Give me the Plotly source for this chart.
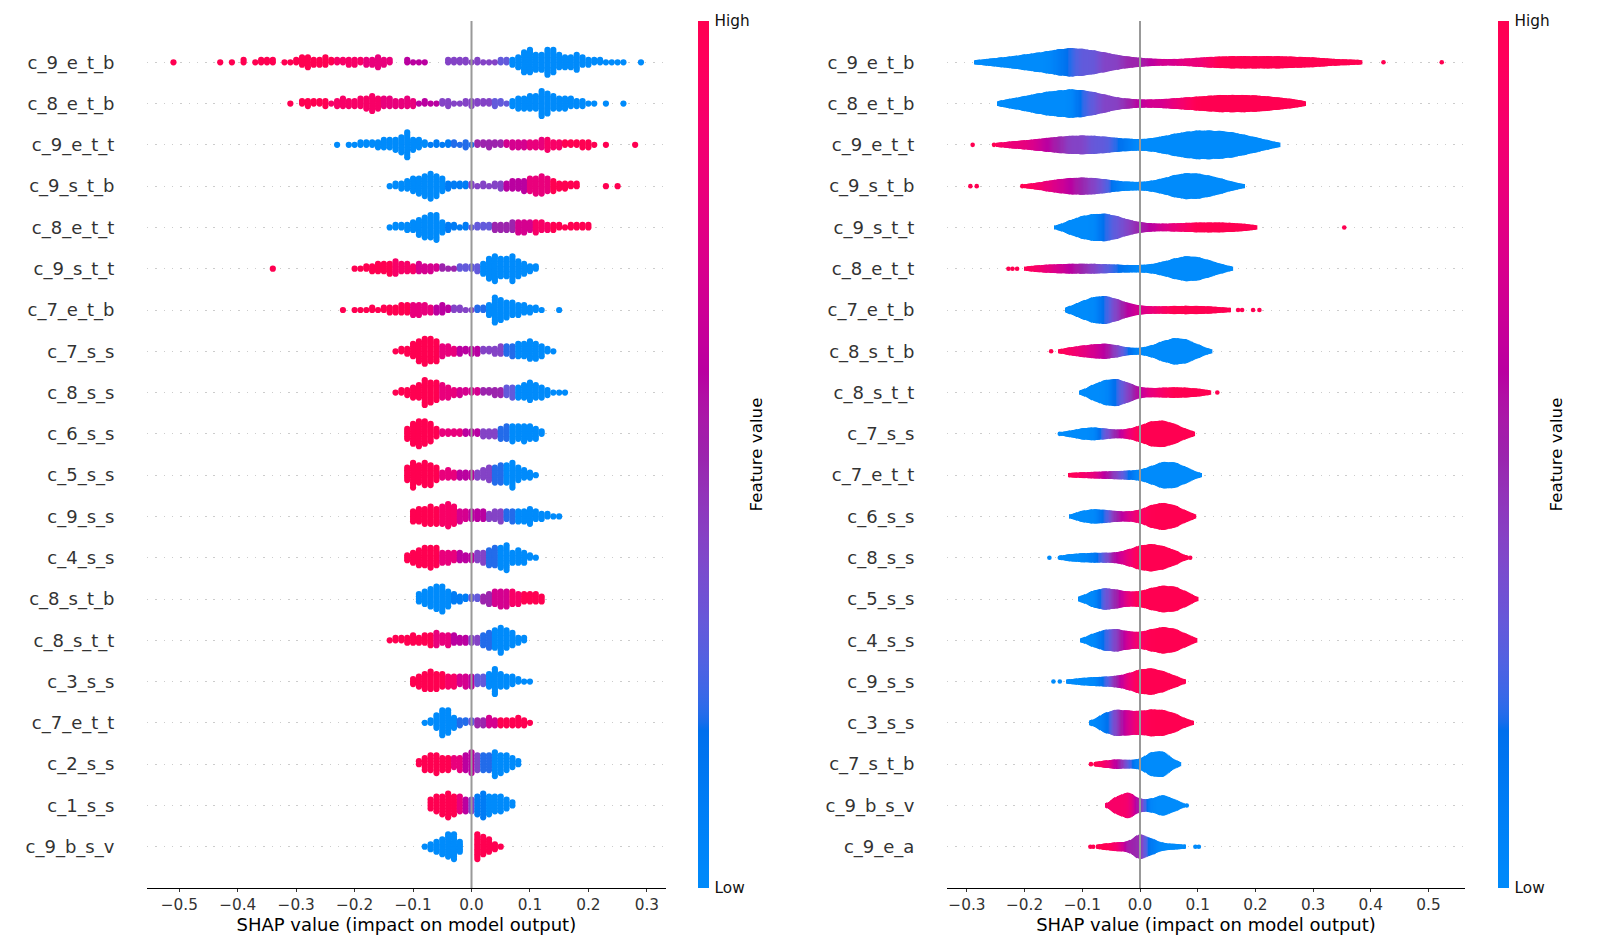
import math
import numpy as np
import plotly.graph_objects as go

# ---------------------------------------------------------------- data
# Left panel: SHAP beeswarm (rows listed top to bottom)
L_FEATURES = ["c_9_e_t_b", "c_8_e_t_b", "c_9_e_t_t", "c_9_s_t_b", "c_8_e_t_t",
              "c_9_s_t_t", "c_7_e_t_b", "c_7_s_s", "c_8_s_s", "c_6_s_s",
              "c_5_s_s", "c_9_s_s", "c_4_s_s", "c_8_s_t_b", "c_8_s_t_t",
              "c_3_s_s", "c_7_e_t_t", "c_2_s_s", "c_1_s_s", "c_9_b_s_v"]
# first SHAP value of each row's 0.01-wide columns
L_START = [-0.51, -0.31, -0.23, -0.14, -0.14, -0.34, -0.22, -0.13, -0.13, -0.11,
           -0.11, -0.10, -0.11, -0.09, -0.14, -0.10, -0.08, -0.09, -0.07, -0.08]
# number of samples in each 0.01-wide SHAP column
L_COUNTS = [
    [1,0,0,0,0,0,0,0,1,0, 1,0,2,0,1,2,2,2,0,1, 1,2,4,5,3,3,4,2,2,2, 3,3,2,3,3,5,3,2,0,0,
     2,1,1,1,0,0,0,2,2,2, 2,1,2,1,1,1,2,2,3,5, 9,10,7,7,11,10,6,5,5,7, 4,3,2,2,1,1,1,1,0,0, 1],
    [1,0,2,3,2,2,3,1,3,4, 3,3,4,5,7,5,4,4,3,3, 4,3,1,2,1,1,2,3,1,1, 2,3,2,2,2,3,2,1,3,5,
     5,6,6,11,9,6,5,5,4,3, 3,1,1,0,1,0,0,1],
    [1,0,1,1,2,2,2,3,4,4, 5,7,11,5,4,2,1,2,1,2, 2,1,3,1,2,2,3,2,2,2, 3,3,3,3,3,4,5,3,3,2,
     2,2,3,3,1,0,1,0,0,0, 0,1],
    [1,2,3,4,6,7,9,11,9,6, 3,2,2,2,2,1,2,1,2,3, 3,4,4,5,6,7,8,6,5,3, 3,2,2,0,0,0,0,1,0,1],
    [1,2,2,3,4,7,9,10,11,5, 3,2,1,2,1,2,2,2,3,3, 3,4,5,5,4,5,4,3,3,2, 1,2,2,2,2],
    [1,0,0,0,0,0,0,0,0,0, 0,0,0,0,1,1,2,3,4,4, 5,6,4,4,3,4,3,3,2,2, 1,1,2,2,2,3,5,9,11,8,
     8,11,7,5,3,2],
    [1,0,1,1,1,2,1,2,3,3, 4,4,5,5,4,3,3,4,2,2, 2,1,1,2,2,5,11,9,7,6, 5,4,3,2,1,0,0,1],
    [1,2,3,6,9,11,10,9,5,4, 3,3,2,3,3,2,2,3,4,4, 5,6,6,8,7,5,2,1],
    [1,2,3,5,6,11,9,8,6,5, 3,3,2,2,2,2,2,3,3,4, 5,5,6,8,6,5,3,1,1,1],
    [5,9,11,10,8,4,2,2,2,2, 2,2,2,3,3,3,5,6,7,6, 7,6,5,2],
    [6,11,8,10,9,6,3,4,3,3, 3,3,3,4,6,7,8,8,11,6, 4,3,1],
    [5,6,7,8,7,8,10,8,5,4, 4,4,4,3,4,5,4,5,5,5, 7,4,3,2,1,1],
    [3,5,7,8,9,8,5,5,4,4, 3,3,4,5,7,8,9,11,5,6, 5,2,1],
    [4,6,8,10,11,7,4,3,2,2, 2,3,5,6,7,7,6,5,4,4, 4,3],
    [1,2,2,3,4,3,4,5,6,4, 5,4,3,3,3,3,5,7,8,11, 8,6,3,2],
    [3,5,7,8,7,6,5,5,4,5, 5,4,4,6,11,6,5,4,2,1, 1],
    [1,2,6,11,10,5,3,2,2,3, 3,4,3,3,3,3,4,3,1],
    [2,5,6,7,5,5,4,5,6,8, 6,6,6,9,7,6,4,2],
    [4,6,7,9,7,6,5,5,7,9, 7,6,6,4,2],
    [1,3,5,7,10,11,5,0,0,11, 8,6,3,1],
]
# feature value (0 = low ... 10 = high) from each SHAP value onwards
L_COLOR_BREAKS = [
    [(-0.51,10),(-0.23,9),(-0.18,8),(-0.13,7),(-0.11,6),(-0.06,5),(-0.04,4),(0.05,3),(0.07,0)],
    [(-0.31,10),(-0.24,9),(-0.15,8),(-0.09,6),(-0.05,4),(0.04,3),(0.07,0)],
    [(-0.23,0),(-0.07,1),(-0.03,2),(0.01,5),(0.06,7),(0.10,8),(0.13,9),(0.16,10)],
    [(-0.14,0),(-0.04,1),(0.0,4),(0.06,6),(0.10,8),(0.14,10)],
    [(-0.14,0),(-0.04,1),(0.0,3),(0.04,5),(0.08,7),(0.11,9),(0.14,10)],
    [(-0.34,10),(-0.13,9),(-0.09,7),(-0.05,5),(-0.02,3),(0.02,0)],
    [(-0.22,10),(-0.10,8),(-0.06,6),(-0.03,4),(0.01,2),(0.03,0)],
    [(-0.13,10),(-0.05,8),(-0.02,6),(0.02,4),(0.06,2),(0.08,0)],
    [(-0.13,10),(-0.05,8),(-0.02,7),(0.02,5),(0.06,3),(0.08,0)],
    [(-0.11,10),(-0.05,8),(-0.01,6),(0.02,4),(0.05,2),(0.07,0)],
    [(-0.11,10),(-0.05,8),(-0.02,6),(0.01,4),(0.04,2),(0.06,0)],
    [(-0.10,10),(-0.05,9),(-0.02,7),(0.0,6),(0.03,4),(0.06,2),(0.08,0)],
    [(-0.11,10),(-0.05,8),(-0.02,6),(0.01,4),(0.03,2),(0.05,0)],
    [(-0.09,0),(-0.03,1),(0.0,3),(0.02,5),(0.04,7),(0.07,9),(0.09,10)],
    [(-0.14,10),(-0.06,8),(-0.03,6),(0.0,4),(0.02,2),(0.04,0)],
    [(-0.10,10),(-0.04,9),(-0.02,7),(0.0,6),(0.01,3),(0.03,0)],
    [(-0.08,0),(-0.02,2),(0.0,3),(0.01,5),(0.03,7),(0.05,10)],
    [(-0.09,10),(-0.03,8),(-0.01,6),(0.01,4),(0.02,2),(0.04,0)],
    [(-0.07,10),(-0.02,8),(-0.01,6),(0.0,4),(0.01,1),(0.03,0)],
    [(-0.08,0),(0.0,10)],
]
L_TICKS = [-0.5, -0.4, -0.3, -0.2, -0.1, 0.0, 0.1, 0.2, 0.3]

# Right panel: SHAP violin (rows listed top to bottom)
R_FEATURES = ["c_9_e_t_b", "c_8_e_t_b", "c_9_e_t_t", "c_9_s_t_b", "c_9_s_t_t",
              "c_8_e_t_t", "c_7_e_t_b", "c_8_s_t_b", "c_8_s_t_t", "c_7_s_s",
              "c_7_e_t_t", "c_6_s_s", "c_8_s_s", "c_5_s_s", "c_4_s_s",
              "c_9_s_s", "c_3_s_s", "c_7_s_t_b", "c_9_b_s_v", "c_9_e_a"]
# first SHAP value of each row's 0.02-wide density bins
R_START = [-0.30, -0.24, -0.26, -0.20, -0.14, -0.20, -0.12, -0.14, -0.10, -0.14,
           -0.12, -0.12, -0.14, -0.10, -0.10, -0.14, -0.08, -0.08, -0.06, -0.08]
# relative sample density in each 0.02-wide bin
R_DENSITY = [
    [3,6,9,12,15,19,23,27,32,35, 33,29,24,18,14,11,9,8,8,9, 11,13,14,15,15,15,15,15,14,13, 12,10,8,7,6,2],
    [8,13,18,24,29,32,35,33,28,22, 15,12,10,10,11,13,15,17,19,21, 21,21,20,18,15,12,8],
    [4,6,9,11,14,17,20,22,23,22, 20,17,15,14,16,21,27,32,35,35, 34,31,25,19,12,6],
    [5,8,13,17,20,21,20,17,13,11, 10,13,19,27,32,31,26,19,11,5],
    [7,18,28,33,34,28,19,13,10,9, 10,11,12,12,12,11,9,6],
    [5,8,10,11,12,12,12,11,10,9, 9,11,17,25,31,29,21,12,5],
    [10,22,32,35,27,17,11,9,9,10, 10,10,9,7,5],
    [5,10,14,17,19,15,9,8,14,25, 33,30,17,6],
    [6,20,31,34,24,13,11,12,13,12, 10,6],
    [4,8,14,16,13,10,12,20,31,33, 25,12,3],
    [6,7,8,9,10,11,13,22,33,32, 20,7],
    [5,14,18,16,13,12,16,28,34,28, 14,3],
    [5,9,11,12,12,13,20,30,34,29, 19,5],
    [8,21,27,23,18,19,27,33,31,19, 4],
    [5,17,26,28,22,20,27,33,29,16, 4],
    [3,6,9,11,12,14,20,30,33,26, 15,4],
    [8,25,33,30,29,33,32,24,10,2],
    [5,9,12,10,12,30,33,10],
    [3,22,34,15,16,27,15,3],
    [4,8,11,12,33,20,9,7,5,2],
]
# mean feature value (0 = low ... 10 = high) in each bin
R_FEATVAL = [
    [0,0,0,0,0,0,0,0,1,2, 3,3,4,4,5,5,6,7,7,8, 8,9,10,10,10,10,10,10,10,10, 10,10,10,10,10,10],
    [0,0,0,0,0,0,0,2,3,4, 4,5,6,7,7,8,9,10,10,10, 10,10,10,10,10,10,10],
    [10,9,8,8,7,6,5,4,4,3, 3,2,1,0,0,0,0,0,0,0, 0,0,0,0,0,0],
    [10,9,8,7,6,5,4,3,1,0, 0,0,0,0,0,0,0,0,0,0],
    [0,0,0,0,2,3,4,5,6,7, 8,9,10,10,10,10,10,10],
    [10,9,8,7,6,5,4,3,2,1, 0,0,0,0,0,0,0,0,0],
    [0,0,0,2,4,6,7,8,9,10, 10,10,10,10,10],
    [10,9,8,7,6,4,2,0,0,0, 0,0,0,0],
    [0,0,0,2,4,6,8,9,10,10, 10,10],
    [0,0,0,0,3,5,8,10,10,10, 10,10,10],
    [10,9,8,6,4,2,0,0,0,0, 0,0],
    [0,0,0,2,5,7,9,10,10,10, 10,10],
    [0,0,0,1,3,6,8,10,10,10, 10,10],
    [0,0,3,5,8,10,10,10,10,10, 10],
    [0,0,2,4,7,9,10,10,10,10, 10],
    [0,0,0,0,2,5,8,10,10,10, 10,10],
    [0,1,4,7,9,10,10,10,10,10],
    [10,9,6,3,0,0,0,0],
    [9,9,9,5,0,0,0,0],
    [10,10,9,5,5,1,0,0,0,0],
]
# isolated samples shown as dots (SHAP value, feature value 0..10)
R_DOTS_X = [[0.422, 0.523], [], [-0.290, -0.253], [-0.294, -0.283, -0.204], [0.354],
            [-0.228, -0.221, -0.213], [0.170, 0.177, 0.196, 0.207], [-0.154], [0.134],
            [-0.139], [], [], [-0.157, -0.139, 0.081, 0.087], [], [], [-0.150, -0.139],
            [], [-0.085, -0.077], [0.081], [-0.086, -0.081, 0.096, 0.102]]
R_DOTS_V = [[10, 10], [], [10, 10], [10, 10, 10], [10], [10, 10, 10], [10, 10, 10, 10],
            [10], [10], [0], [], [], [0, 0, 10, 10], [], [], [0, 0], [], [10, 10], [0],
            [10, 10, 0, 0]]
R_TICKS = [-0.3, -0.2, -0.1, 0.0, 0.1, 0.2, 0.3, 0.4, 0.5]

XLABEL = "SHAP value (impact on model output)"
CBAR_LABEL = "Feature value"

# ---------------------------------------------------------------- colormap (shap red_blue, LCh)
def lab_to_rgb(L, a, b):
    fy = (L + 16.0) / 116.0
    fx = fy + a / 500.0
    fz = max(fy - b / 200.0, 0.0)

    def finv(t):
        return t ** 3 if t > 0.2068966 else (t - 16.0 / 116.0) / 7.787

    xyz = np.array([0.95047 * finv(fx), finv(fy), 1.08883 * finv(fz)])
    m = np.array([[3.24048134, -1.53715152, -0.49853633],
                  [-0.96925495, 1.87599, 0.04155593],
                  [0.05564664, -0.20404134, 1.05731107]])
    out = []
    for c in m @ xyz:
        c = 1.055 * c ** (1 / 2.4) - 0.055 if c > 0.0031308 else 12.92 * c
        out.append(min(max(c, 0.0), 1.0))
    return out


NSTEP = 100
l_vals = list(np.linspace(54.0, 40.0, NSTEP // 2)) + list(np.linspace(40.0, 54.0, NSTEP // 2))
c_vals = np.linspace(70.0, 90.0, NSTEP)
h_vals = np.linspace(4.6588, 0.35470565 + 2 * np.pi, NSTEP)
COLORSCALE = []
for i, (l, c, h) in enumerate(zip(l_vals, c_vals, h_vals)):
    r, g, b = lab_to_rgb(l, c * np.cos(h), c * np.sin(h))
    COLORSCALE.append([i / (NSTEP - 1), "rgb(%d,%d,%d)" % (round(r * 255), round(g * 255), round(b * 255))])

FONT = "DejaVu Sans"
NROW = len(L_FEATURES)

# ---------------------------------------------------------------- beeswarm points
bx, by, bc = [], [], []
for r in range(NROW):
    pos = NROW - 1 - r
    counts = L_COUNTS[r]
    mlay = max(math.ceil((n - 1) / 2) for n in counts if n > 0)
    scale = 0.9 * 0.4 / (mlay + 1)
    for k, n in enumerate(counts):
        x = round(L_START[r] + 0.01 * k, 4)
        v = L_COLOR_BREAKS[r][0][1]
        for brk, val in L_COLOR_BREAKS[r]:
            if x >= brk - 1e-9:
                v = val
        for layer in range(n):
            off = math.ceil(layer / 2) * (1 if layer % 2 else -1)
            bx.append(x)
            by.append(pos + off * scale)
            bc.append(v / 10.0)

fig = go.Figure()
fig.add_trace(go.Scatter(
    x=bx, y=by, mode="markers", xaxis="x", yaxis="y", hoverinfo="skip",
    marker=dict(size=6.2, color=bc, coloraxis="coloraxis", line=dict(width=0)),
    showlegend=False))

# ---------------------------------------------------------------- violins (kde of binned densities)
SIG = 0.01
XF = np.round(np.arange(-0.33, 0.56, 0.002), 4)
dens, cols = [], []
for r in range(NROW):
    g = R_START[r] + 0.02 * np.arange(len(R_DENSITY[r]))
    w = np.array(R_DENSITY[r], float)
    fv = np.array(R_FEATVAL[r], float) / 10.0
    K = np.exp(-(XF[:, None] - g[None, :]) ** 2 / (2 * SIG ** 2))
    dens.append(K @ w)
    cols.append((K @ fv) / np.maximum(K.sum(axis=1), 1e-300))
gmax = max(d.max() for d in dens)

vx, vy, vb, vc = [], [], [], []
for r in range(NROW):
    pos = NROW - 1 - r
    ds = dens[r] / gmax * 0.35
    m = ds > 0.05
    vx += list(XF[m])
    vy += list(2 * ds[m])
    vb += list(pos - ds[m])
    vc += list(cols[r][m])

fig.add_trace(go.Bar(
    x=vx, y=vy, base=vb, width=0.0028, xaxis="x2", yaxis="y2", hoverinfo="skip",
    marker=dict(color=vc, coloraxis="coloraxis2", line=dict(width=0)),
    showlegend=False))

dx, dy, dc = [], [], []
for r in range(NROW):
    pos = NROW - 1 - r
    for x, v in zip(R_DOTS_X[r], R_DOTS_V[r]):
        dx.append(x)
        dy.append(pos)
        dc.append(v / 10.0)
fig.add_trace(go.Scatter(
    x=dx, y=dy, mode="markers", xaxis="x2", yaxis="y2", hoverinfo="skip",
    marker=dict(size=4.6, color=dc, coloraxis="coloraxis2", line=dict(width=0)),
    showlegend=False))

# ---------------------------------------------------------------- layout
# the page body adds an 8px margin, so the figure is sized to fit the window
OFF = 8
FW, FH = 1600 - OFF, 950 - OFF


def px(x):
    return (x - OFF) / FW


def py(y):
    return (FH - (y - OFF)) / FH


Y_DOM = [py(888), py(21)]


def fmt(v):
    s = "%.1f" % v
    return s.replace("-", "\u2212") if v < 0 else s


def xaxis(dom, rng, ticks):
    return dict(domain=dom, range=rng, tickmode="array", tickvals=ticks,
                ticktext=[fmt(t) for t in ticks], showgrid=False, zeroline=False,
                showline=True, linecolor="#000000", linewidth=1.1,
                ticks="outside", ticklen=3, tickwidth=1.1, tickcolor="#333333",
                tickfont=dict(family=FONT, size=15.3, color="#333333"),
                title=dict(text=XLABEL, font=dict(family=FONT, size=18, color="#000000"),
                           standoff=4))


def yaxis(anchor, feats):
    return dict(domain=Y_DOM, range=[-1, NROW], anchor=anchor, tickmode="array",
                tickvals=list(range(NROW)), ticktext=list(reversed(feats)),
                showgrid=True, gridcolor="#cccccc", gridwidth=0.7, griddash="1.4px,6.9px",
                zeroline=False, showline=False, ticks="outside", ticklen=28,
                tickcolor="rgba(0,0,0,0)",
                tickfont=dict(family=FONT, size=18, color="#333333"))


def cbar(x):
    return dict(x=x, xanchor="left", xpad=0, y=py(454.5), yanchor="middle",
                len=867 / FH, lenmode="fraction", thickness=11, thicknessmode="pixels",
                ypad=0, outlinewidth=0, tickmode="array", tickvals=[0, 1],
                ticktext=["Low", "High"], ticks="outside", ticklen=3,
                tickcolor="rgba(0,0,0,0)",
                tickfont=dict(family=FONT, size=15.3, color="#111111"))


fig.update_layout(
    width=FW, height=FH, margin=dict(l=0, r=0, t=0, b=0),
    paper_bgcolor="white", plot_bgcolor="white", barmode="overlay",
    font=dict(family=FONT),
    xaxis=xaxis([px(147), px(665.7)], [-0.5553, 0.3323], L_TICKS),
    xaxis2=xaxis([px(947), px(1465)], [-0.3345, 0.5633], R_TICKS),
    yaxis=yaxis("x", L_FEATURES),
    yaxis2=yaxis("x2", R_FEATURES),
    coloraxis=dict(colorscale=COLORSCALE, cmin=0, cmax=1, colorbar=cbar(px(698))),
    coloraxis2=dict(colorscale=COLORSCALE, cmin=0, cmax=1, colorbar=cbar(px(1498))),
    shapes=[
        dict(type="line", xref="x", yref="y", x0=0, x1=0, y0=-1, y1=NROW,
             line=dict(color="#999999", width=2), layer="above"),
        dict(type="line", xref="x2", yref="y2", x0=0, x1=0, y0=-1, y1=NROW,
             line=dict(color="#999999", width=2), layer="above"),
    ],
    annotations=[
        dict(text=CBAR_LABEL, x=px(756), y=py(454.5), xref="paper", yref="paper",
             textangle=-90, showarrow=False, xanchor="center", yanchor="middle",
             font=dict(family=FONT, size=16.7, color="#000000")),
        dict(text=CBAR_LABEL, x=px(1556), y=py(454.5), xref="paper", yref="paper",
             textangle=-90, showarrow=False, xanchor="center", yanchor="middle",
             font=dict(family=FONT, size=16.7, color="#000000")),
    ],
)

fig.write_html("out.html")
